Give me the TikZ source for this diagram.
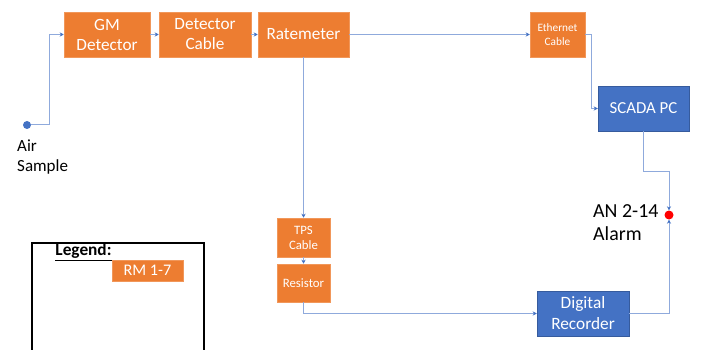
\documentclass[tikz,border=0pt]{standalone}
\usepackage{fontspec}
\setmainfont{Carlito}
\usetikzlibrary{arrows.meta}
\definecolor{orbox}{HTML}{ED7D31}
\definecolor{blbox}{HTML}{4472C4}
\definecolor{conn}{HTML}{8FAADC}
\definecolor{tipc}{HTML}{4472C4}
\tikzset{
  obox/.style={rectangle, fill=orbox, draw=orbox!80!white, line width=0.5pt, text=white, align=center, inner sep=0pt},
  bbox/.style={rectangle, fill=blbox, draw=blbox!80!black, line width=0.5pt, text=white, align=center, inner sep=0pt},
  wire/.style={draw=conn, line width=1pt},
  arr/.style={wire, -{Stealth[length=4pt,width=4pt,color=tipc]}},
}
\begin{document}
\begin{tikzpicture}[x=1pt,y=-1pt]
\useasboundingbox (0,0) rectangle (701,350);
\fill[white] (0,0) rectangle (701,350);
\begin{scope}
\clip (0,0) rectangle (701,350);
\draw[black, line width=1.3pt] (32,356) |- (204,243) -- (204,356);
\end{scope}
\node[font=\fontsize{17.3}{20}\selectfont\bfseries] (legend) at (83.5,252) {\underline{Legend:}};
\node[obox, minimum width=71pt, minimum height=21pt, font=\fontsize{16.2}{19}\selectfont] (rm) at (147.5,270.5) {RM 1-7};

\node[obox, minimum width=86pt, minimum height=45pt, font=\fontsize{17.2}{20}\selectfont] (gm) at (107,34.5) {GM\\Detector};
\node[obox, minimum width=92pt, minimum height=45pt, font=\fontsize{17.2}{20}\selectfont] (dc) at (205,34.5) {Detector\\Cable};
\node[obox, minimum width=91pt, minimum height=45pt, font=\fontsize{17.2}{20}\selectfont] (rate) at (303.5,34.5) {Ratemeter};
\node[obox, minimum width=55pt, minimum height=45pt, font=\fontsize{11.3}{14}\selectfont] (eth) at (557.5,34.5) {Ethernet\\Cable};
\node[bbox, minimum width=91pt, minimum height=45pt, font=\fontsize{16.8}{20}\selectfont] (scada) at (643.5,108.5) {SCADA PC};
\node[obox, minimum width=53pt, minimum height=39pt, font=\fontsize{12.8}{15}\selectfont] (tps) at (303.5,237.5) {TPS\\Cable};
\node[obox, minimum width=53pt, minimum height=38pt, font=\fontsize{12.8}{15}\selectfont] (res) at (303.5,283) {Resistor};
\node[bbox, minimum width=92pt, minimum height=45pt, font=\fontsize{17.3}{21}\selectfont] (dig) at (583,313.5) {Digital\\Recorder};

\node[circle, fill=blbox, inner sep=0pt, minimum size=8pt] (air) at (27,125) {};
\node[anchor=north west, align=left, inner sep=0pt, font=\fontsize{17}{20}\selectfont] (airlbl) at (17,140) {Air\\Sample};
\node[circle, fill=red, inner sep=0pt, minimum size=9pt] (alarm) at (669,215) {};
\node[anchor=north west, align=left, inner sep=0pt, font=\fontsize{19.9}{23}\selectfont] (alarmlbl) at (593,204) {AN 2-14\\Alarm};

\coordinate (a1) at (49,125);
\coordinate (e1) at (591,34.5);
\coordinate (s1) at (643.5,171);

\draw[arr] (air) -- (a1) |- (gm.west);
\draw[arr] (gm) -- (dc);
\draw[arr] (dc) -- (rate);
\draw[arr] (rate) -- (eth);
\draw[arr] (eth.east) -- (e1) |- (scada.west);
\draw[arr] (rate.south) -- (tps.north);
\draw[arr] (tps.south) -- (res.north);
\draw[arr] (res.south) |- (dig.west);
\draw[arr] (scada.south) -- (s1) -| (alarm.north);
\draw[arr] (dig.east) -| (alarm.south);
\end{tikzpicture}
\end{document}
